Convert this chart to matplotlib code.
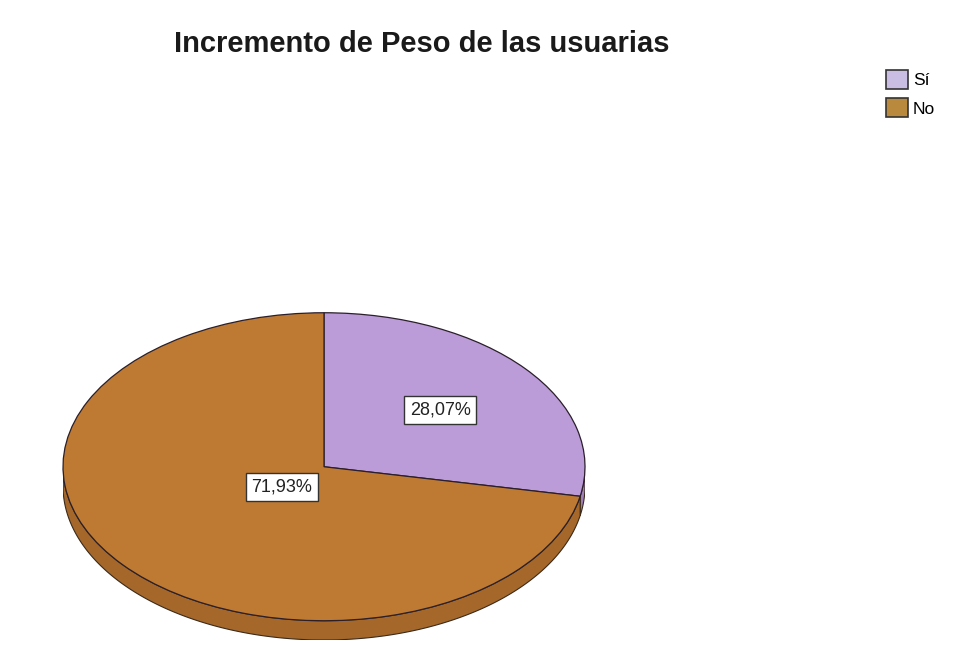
import numpy as np
import matplotlib
matplotlib.use('Agg')
import matplotlib.pyplot as plt
from matplotlib.patches import Patch

# data
categories = ['Sí', 'No']
percentages = [28.07, 71.93]
top_colors = ['#BC9CD8', '#BE7A32']
side_colors = ['#9E7FBA', '#A5682A']
legend_colors = ['#C9BDE3', '#B98A3E']
label_radius = [0.577, 0.21]

plt.rcParams['font.family'] = ['Liberation Sans', 'DejaVu Sans']

fig = plt.figure(figsize=(9.75, 6.45), dpi=100)
depth = 0.125
ax = fig.add_axes([63 / 975, 5 / 645, 522 / 975, 154 * (2 + depth) / 645])

# 3D side band (only lower half of ellipse is visible)
start = 90.0
angles = []
for p in percentages:
    sweep = 360 * p / 100
    angles.append((start, start - sweep))
    start -= sweep

for (a0, a1), col in zip(angles, side_colors):
    t = np.linspace(a0, a1, 400)
    t = np.deg2rad(t)
    s = np.sin(t)
    mask = s <= 0
    if not mask.any():
        continue
    tt = t[mask]
    xs = np.cos(tt)
    ys = np.sin(tt)
    px = np.concatenate([xs, xs[::-1]])
    py = np.concatenate([ys, ys[::-1] - depth])
    ax.fill(px, py, color=col, ec='#3a2a1a', lw=0.8, zorder=1)

# top face
wedges, _ = ax.pie(percentages, startangle=90, counterclock=False,
                   colors=top_colors, radius=1,
                   wedgeprops=dict(edgecolor='#2a1f2a', linewidth=0.9))
for w in wedges:
    w.set_zorder(2)

for (a0, a1), p, r in zip(angles, percentages, label_radius):
    mid = np.deg2rad((a0 + a1) / 2)
    ax.text(r * np.cos(mid), r * np.sin(mid), f'{p:.2f}%'.replace('.', ','),
            ha='center', va='center', fontsize=13, color='#222222', zorder=5,
            bbox=dict(boxstyle='square,pad=0.3', fc='white', ec='#333333', lw=1.0))

ax.set_aspect('auto')
ax.set_xlim(-1, 1)
ax.set_ylim(-1 - depth, 1)
ax.axis('off')

fig.text(0.433, 0.932, 'Incremento de Peso de las usuarias', ha='center', va='center',
         fontsize=21, fontweight='bold', color='#1a1a1a')

handles = [Patch(facecolor=c, edgecolor='#333333', linewidth=1.2, label=l)
           for c, l in zip(legend_colors, categories)]
fig.legend(handles=handles, loc='upper left', bbox_to_anchor=(886 / 975, 1 - 70 / 645),
           frameon=False, fontsize=12.5, handlelength=1.25, handleheight=1.3,
           handletextpad=0.3, labelspacing=0.55, borderpad=0, borderaxespad=0)

fig.savefig('out.png', dpi=100)
